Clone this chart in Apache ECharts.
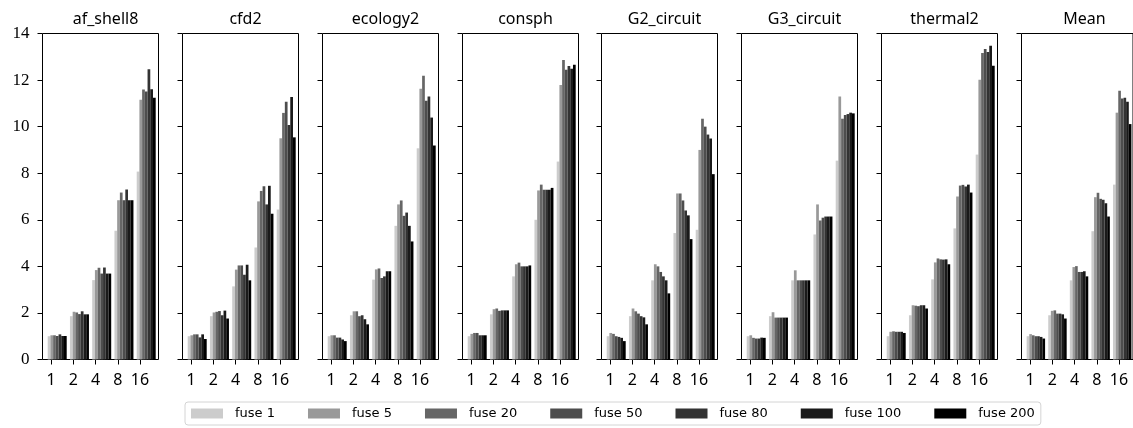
<!DOCTYPE html>
<html>
<head>
<meta charset="utf-8">
<script src="https://cdn.jsdelivr.net/npm/echarts@6/dist/echarts.min.js"></script>
<style>html,body{margin:0;padding:0;background:#fff;}#c{width:1133px;height:428px;}</style>
</head>
<body>
<div id="c"></div>
<script>
const categories = ['1', '2', '4', '8', '16'];
const seriesNames = ['fuse 1', 'fuse 5', 'fuse 20', 'fuse 50', 'fuse 80', 'fuse 100', 'fuse 200'];
const seriesColors = ['#cccccc', '#999999', '#666666', '#4d4d4d', '#333333', '#1a1a1a', '#000000'];
const panelTitles = ['af_shell8', 'cfd2', 'ecology2', 'consph', 'G2_circuit', 'G3_circuit', 'thermal2', 'Mean'];
const yTicks = [0, 2, 4, 6, 8, 10, 12, 14];

// rows: fuse 1, 5, 20, 50, 80, 100, 200 ; columns: categories
const af_shell8 = [
  [1.00, 1.86, 3.41, 5.53, 8.07],
  [1.04, 2.05, 3.84, 6.84, 11.16],
  [1.04, 2.02, 3.94, 7.17, 11.59],
  [1.01, 1.95, 3.69, 6.84, 11.51],
  [1.08, 2.07, 3.95, 7.30, 12.47],
  [1.01, 1.94, 3.69, 6.84, 11.61],
  [1.01, 1.94, 3.69, 6.84, 11.24]
];
const cfd2 = [
  [1.00, 1.86, 3.14, 4.81, 6.44],
  [1.04, 2.02, 3.86, 6.79, 9.50],
  [1.08, 2.05, 4.04, 7.24, 10.59],
  [1.08, 2.08, 4.04, 7.44, 11.07],
  [0.95, 1.90, 3.64, 6.66, 10.07],
  [1.08, 2.10, 4.07, 7.46, 11.27],
  [0.88, 1.76, 3.40, 6.26, 9.54]
];
const ecology2 = [
  [1.00, 1.90, 3.43, 5.74, 9.07],
  [1.04, 2.07, 3.87, 6.66, 11.63],
  [1.04, 2.07, 3.91, 6.83, 12.19],
  [0.94, 1.86, 3.50, 6.17, 11.11],
  [0.94, 1.90, 3.57, 6.31, 11.29],
  [0.86, 1.73, 3.79, 5.74, 10.39],
  [0.79, 1.51, 3.79, 5.07, 9.19]
];
const consph = [
  [1.00, 1.94, 3.57, 6.00, 8.50],
  [1.10, 2.16, 4.09, 7.26, 11.79],
  [1.14, 2.19, 4.16, 7.51, 12.86],
  [1.14, 2.09, 4.00, 7.29, 12.44],
  [1.04, 2.11, 4.00, 7.29, 12.60],
  [1.04, 2.11, 4.00, 7.29, 12.49],
  [1.04, 2.11, 4.04, 7.37, 12.66]
];
const G2_circuit = [
  [1.00, 1.86, 3.40, 5.43, 5.57],
  [1.14, 2.19, 4.09, 7.13, 9.00],
  [1.10, 2.07, 4.00, 7.13, 10.34],
  [1.00, 1.97, 3.76, 6.83, 10.00],
  [0.97, 1.86, 3.57, 6.40, 9.66],
  [0.93, 1.81, 3.40, 6.19, 9.49],
  [0.79, 1.51, 2.84, 5.17, 7.96]
];
const G3_circuit = [
  [1.00, 1.86, 3.40, 5.37, 8.54],
  [1.04, 2.03, 3.83, 6.66, 11.29],
  [0.93, 1.80, 3.40, 5.97, 10.34],
  [0.90, 1.80, 3.40, 6.09, 10.50],
  [0.90, 1.80, 3.40, 6.14, 10.54],
  [0.94, 1.80, 3.40, 6.14, 10.60],
  [0.93, 1.80, 3.40, 6.14, 10.57]
];
const thermal2 = [
  [1.00, 1.90, 3.44, 5.63, 8.80],
  [1.19, 2.33, 4.17, 7.00, 12.01],
  [1.21, 2.31, 4.34, 7.47, 13.16],
  [1.19, 2.29, 4.30, 7.50, 13.33],
  [1.19, 2.33, 4.29, 7.43, 13.21],
  [1.19, 2.33, 4.30, 7.51, 13.47],
  [1.14, 2.19, 4.09, 7.17, 12.61]
];
const Mean = [
  [1.00, 1.90, 3.40, 5.51, 7.51],
  [1.09, 2.09, 3.97, 6.97, 10.60],
  [1.04, 2.11, 4.01, 7.16, 11.54],
  [1.00, 1.97, 3.76, 6.90, 11.21],
  [1.00, 1.97, 3.76, 6.86, 11.24],
  [0.97, 1.94, 3.79, 6.71, 11.07],
  [0.90, 1.76, 3.57, 6.14, 10.11]
];
const panelData = [af_shell8, cfd2, ecology2, consph, G2_circuit, G3_circuit, thermal2, Mean];

const chart = echarts.init(document.getElementById('c'), null, {renderer: 'canvas'});

const TOP = 33.5, H = 326, W = 116, PITCH = 139.86, LEFT0 = 42.5;
const BAND = 22.25, TICK0 = 8.5, GROUP_SHIFT = 6.2;
const grids = [], xAxes = [], yAxes = [], series = [], titles = [];
const yMax = yTicks[yTicks.length - 1];
const yInterval = yTicks[1] - yTicks[0];

panelData.forEach(function (pd, p) {
  const L = Math.floor(LEFT0 + PITCH * p) + 0.5;
  const gBox = grids.length;
  // box grid
  grids.push({left: L, top: TOP, width: W, height: H, show: true, borderColor: '#000', borderWidth: 1, backgroundColor: 'transparent', containLabel: false});
  xAxes.push({gridIndex: gBox, type: 'category', data: categories, show: false});
  yAxes.push({gridIndex: gBox, type: 'value', min: 0, max: yMax, interval: yInterval,
    axisLine: {show: false}, splitLine: {show: false},
    axisTick: {show: true, inside: false, length: 5, lineStyle: {color: '#000', width: 1}},
    axisLabel: {show: p === 0, margin: 13, color: '#000', fontFamily: 'Liberation Serif', fontSize: 17}});
  // bars grid
  const gBar = grids.length;
  const barLeft = L + TICK0 + GROUP_SHIFT - BAND / 2;
  grids.push({left: barLeft, top: TOP, width: BAND * categories.length, height: H, show: false});
  xAxes.push({gridIndex: gBar, type: 'category', data: categories, show: false});
  yAxes.push({gridIndex: gBar, type: 'value', min: 0, max: yMax, show: false});
  pd.forEach(function (vals, k) {
    series.push({type: 'bar', name: seriesNames[k], xAxisIndex: gBar, yAxisIndex: gBar,
      data: vals, barGap: '0%', barCategoryGap: '14.6%',
      itemStyle: {color: seriesColors[k]}, silent: true});
  });
  // ticks grid
  const gTick = grids.length;
  const tickLeft = L + TICK0 - BAND / 2;
  grids.push({left: tickLeft, top: TOP, width: BAND * categories.length, height: H, show: false});
  xAxes.push({gridIndex: gTick, type: 'category', data: categories, position: 'bottom',
    axisLine: {show: false},
    axisTick: {show: true, alignWithLabel: true, inside: false, length: 5, lineStyle: {color: '#000', width: 1}},
    axisLabel: {show: true, interval: 0, margin: 13, color: '#000', fontFamily: 'Noto Sans', fontSize: 16}});
  yAxes.push({gridIndex: gTick, type: 'value', min: 0, max: yMax, show: false});
  titles.push({text: panelTitles[p], left: L + W / 2, top: 6, textAlign: 'center',
    textStyle: {fontFamily: 'Noto Sans', fontSize: 16, fontWeight: 'normal', color: '#000'}});
});

chart.setOption({
  animation: false,
  backgroundColor: '#fff',
  title: titles,
  grid: grids,
  xAxis: xAxes,
  yAxis: yAxes,
  series: series,
  legend: {
    data: seriesNames.map(function (n) { return {name: n, icon: 'rect'}; }),
    left: 185, top: 402,
    orient: 'horizontal',
    itemWidth: 32, itemHeight: 10, itemGap: 33,
    padding: [5, 6],
    borderColor: '#d4d4d4', borderWidth: 1, borderRadius: 3,
    selectedMode: false,
    textStyle: {fontFamily: 'DejaVu Sans', fontSize: 13, color: '#000', padding: [0, 0, 0, 7]}
  }
});
</script>
</body>
</html>
